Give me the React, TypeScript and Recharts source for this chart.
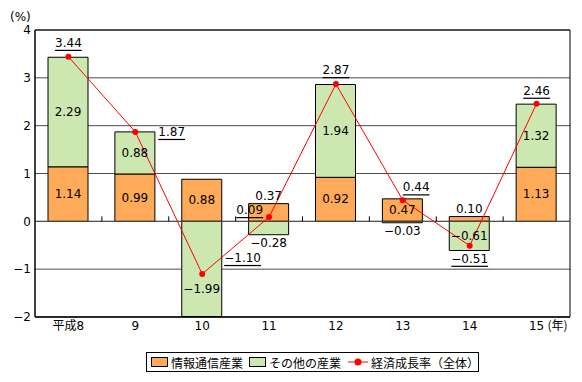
import React from 'react';
import {
  ComposedChart,
  Bar,
  Line,
  XAxis,
  YAxis,
  CartesianGrid,
  LabelList,
  ReferenceLine,
  ReferenceArea,
} from 'recharts';

const years = ['平成8', '9', '10', '11', '12', '13', '14', '15'];
const ictIndustry = [1.14, 0.99, 0.88, 0.37, 0.92, 0.47, 0.1, 1.13];
const otherIndustry = [2.29, 0.88, -1.99, -0.28, 1.94, -0.03, -0.61, 1.32];
const growthRate = [3.44, 1.87, -1.1, 0.09, 2.87, 0.44, -0.51, 2.46];
const yTicks = [-2, -1, 0, 1, 2, 3, 4];

// where each value label sits relative to its bar segment
const ictLabelPlace = ['center', 'center', 'center', 'above', 'center', 'center', 'above', 'center'];
const otherLabelPlace = ['center', 'center', 'low', 'below', 'center', 'below', 'center', 'center'];
// growth labels: [anchor, dx, dy] from the point
const growthLabelPlace: [string, number, number][] = [
  ['middle', 0, -14],
  ['start', 23, 0],
  ['start', 22, -16],
  ['end', -6, -7],
  ['middle', 0, -14],
  ['start', 0, -13],
  ['middle', 0, 13],
  ['middle', 0, -13],
];

const data = years.map((year, i) => ({
  year,
  ict: ictIndustry[i],
  other: otherIndustry[i],
  growth: growthRate[i],
}));

const FONT = "'DejaVu Sans', 'Noto Sans CJK JP', sans-serif";
const JP_FONT = "'Noto Sans CJK JP', sans-serif";
const ORANGE = '#FFAA58';
const GREEN = '#CCE8B0';
const RED = '#FF0000';

const fmt = (v: number) => (v < 0 ? '−' + Math.abs(v).toFixed(2) : v.toFixed(2));

const barLabel = (values: number[], place: string[]) => (props: any) => {
  const index = props.index;
  const vb = props.viewBox ?? props;
  const top = Math.min(vb.y, vb.y + vb.height);
  const bottom = Math.max(vb.y, vb.y + vb.height);
  const cx = vb.x + vb.width / 2;
  const p = place[index];
  let cy = (top + bottom) / 2;
  if (p === 'above') cy = top - 8;
  else if (p === 'below') cy = bottom + 8;
  else if (p === 'low') cy = bottom - 28;
  return (
    <text
      x={cx}
      y={cy}
      textAnchor="middle"
      dominantBaseline="central"
      fontFamily={FONT}
      fontSize={12}
      fill="#000"
    >
      {fmt(values[index])}
    </text>
  );
};

const growthLabel = (props: any) => {
  const index = props.index;
  const vb = props.viewBox ?? props;
  const [anchor, dx, dy] = growthLabelPlace[index];
  return (
    <text
      x={vb.x + dx}
      y={vb.y + dy}
      textAnchor={anchor as any}
      dominantBaseline="central"
      fontFamily={FONT}
      fontSize={12}
      fill="#000"
      style={{ textDecoration: 'underline' }}
    >
      {fmt(growthRate[index])}
    </text>
  );
};

const YearTick = (props: any) => {
  const { x, y, payload, index } = props;
  return (
    <g>
      <text x={x} y={y + 13} textAnchor="middle" fontFamily={FONT} fontSize={12} fill="#000">
        {payload.value}
      </text>
      {index === years.length - 1 && (
        <text x={x + 11} y={y + 13} textAnchor="start" fontFamily={JP_FONT} fontSize={12} fill="#000">
          (年)
        </text>
      )}
    </g>
  );
};

// zero line with small ticks at the category boundaries
const ZeroLine = (props: any) => {
  const { x1, y1, x2 } = props;
  const step = (x2 - x1) / years.length;
  return (
    <g>
      <line x1={x1} y1={y1} x2={x2} y2={y1} stroke="#4d4d4d" />
      {years.slice(1).map((_, k) => (
        <line
          key={k}
          x1={x1 + step * (k + 1)}
          x2={x1 + step * (k + 1)}
          y1={y1}
          y2={y1 - 5}
          stroke="#000"
        />
      ))}
    </g>
  );
};

function LegendBox() {
  const item: React.CSSProperties = { display: 'flex', alignItems: 'center', marginRight: 6 };
  const swatch = (c: string): React.CSSProperties => ({
    width: 15,
    height: 8,
    background: c,
    border: '1px solid #000',
    marginRight: 3,
  });
  return (
    <div
      style={{
        position: 'absolute',
        left: 146,
        top: 352,
        width: 327,
        height: 18,
        border: '1px solid #000',
        display: 'flex',
        alignItems: 'center',
        paddingLeft: 4,
        boxSizing: 'content-box',
        fontFamily: JP_FONT,
        fontSize: 12,
        color: '#000',
        whiteSpace: 'nowrap',
      }}
    >
      <span style={item}>
        <span style={swatch(ORANGE)} />
        情報通信産業
      </span>
      <span style={item}>
        <span style={swatch(GREEN)} />
        その他の産業
      </span>
      <span style={item}>
        <svg width={22} height={10} style={{ marginRight: 2 }}>
          <line x1={1} y1={5} x2={21} y2={5} stroke={RED} />
          <circle cx={11} cy={5} r={3.5} fill={RED} />
        </svg>
        経済成長率（全体）
      </span>
    </div>
  );
}

export default function App() {
  return (
    <div style={{ position: 'absolute', left: 0, top: 0, width: 582, height: 382, background: '#fff' }}>
      <div
        style={{
          position: 'absolute',
          left: 10,
          top: 10,
          fontFamily: FONT,
          fontSize: 12,
          color: '#000',
        }}
      >
        (%)
      </div>
      <ComposedChart
        width={582}
        height={382}
        data={data}
        stackOffset="sign"
        margin={{ top: 30, right: 12, left: 0, bottom: 45 }}
      >
        <CartesianGrid vertical={false} stroke="#4d4d4d" />
        <XAxis
          dataKey="year"
          height={20}
          axisLine={{ stroke: '#000' }}
          tickLine={false}
          tickSize={0}
          tickMargin={0}
          tick={<YearTick />}
          interval={0}
        />
        <YAxis
          width={35}
          domain={[-2, 4]}
          ticks={yTicks}
          allowDataOverflow
          axisLine={{ stroke: '#000' }}
          tickLine={false}
          tickSize={0}
          tickMargin={4}
          tickFormatter={(v: number) => (v < 0 ? '−' + Math.abs(v) : String(v))}
          tick={{ fill: '#000', fontSize: 12, fontFamily: FONT }}
        />
        <ReferenceArea y1={-2} y2={4} fill="none" stroke="#000" ifOverflow="visible" />
        <Bar dataKey="ict" stackId="a" fill={ORANGE} stroke="#000" strokeWidth={1} barSize={40} isAnimationActive={false}>
          <LabelList dataKey="ict" content={barLabel(ictIndustry, ictLabelPlace)} />
        </Bar>
        <Bar dataKey="other" stackId="a" fill={GREEN} stroke="#000" strokeWidth={1} barSize={40} isAnimationActive={false}>
          <LabelList dataKey="other" content={barLabel(otherIndustry, otherLabelPlace)} />
        </Bar>
        <ReferenceLine y={0} shape={<ZeroLine />} />
        <Line
          dataKey="growth"
          type="linear"
          stroke={RED}
          strokeWidth={1}
          dot={{ r: 3, fill: RED, stroke: 'none' }}
          activeDot={false}
          isAnimationActive={false}
        >
          <LabelList dataKey="growth" content={growthLabel} />
        </Line>
      </ComposedChart>
      <LegendBox />
    </div>
  );
}
